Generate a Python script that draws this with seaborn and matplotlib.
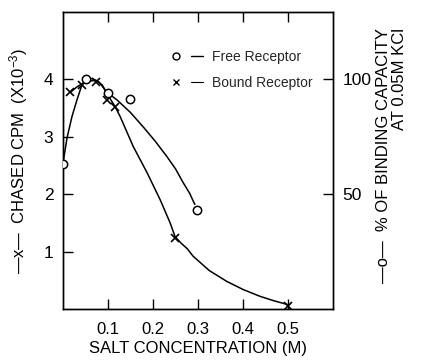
import numpy as np
import pandas as pd
import matplotlib
matplotlib.use("Agg")
import matplotlib.pyplot as plt
import seaborn as sns
from matplotlib.lines import Line2D
from matplotlib.legend_handler import HandlerTuple

# ---- data ----
# Free receptor (% of binding capacity at 0.05M KCl, right axis)
free_salt = [0.0, 0.051, 0.100, 0.149, 0.298]
free_pct = [63.0, 100.0, 94.0, 91.5, 43.0]
# Free receptor hand-drawn curve
free_curve_salt = [0.0, 0.002, 0.009, 0.020, 0.031, 0.042, 0.051, 0.065, 0.080, 0.098, 0.120,
                   0.150, 0.178, 0.205, 0.231, 0.250, 0.267, 0.281, 0.293]
free_curve_pct = [63.0, 66.0, 74.5, 83.8, 91.0, 97.5, 100.0, 100.3, 98.8, 94.2, 91.0,
                  85.5, 79.3, 73.0, 66.3, 61.0, 55.0, 50.5, 45.5]

# Bound receptor (chased CPM x10^-3, left axis)
bound_salt = [0.015, 0.042, 0.073, 0.098, 0.116, 0.249, 0.500]
bound_cpm = [3.77, 3.90, 3.96, 3.64, 3.52, 1.24, 0.06]
# Bound receptor hand-drawn curve
bound_curve_salt = [0.016, 0.030, 0.042, 0.060, 0.073, 0.087, 0.100, 0.116, 0.127, 0.156, 0.187,
                    0.216, 0.238, 0.249, 0.262, 0.276, 0.289, 0.325, 0.364, 0.400, 0.438, 0.470, 0.498]
bound_curve_cpm = [3.77, 3.86, 3.92, 3.97, 3.98, 3.90, 3.72, 3.52, 3.35, 2.83, 2.37,
                   1.90, 1.50, 1.26, 1.15, 1.05, 0.92, 0.67, 0.48, 0.34, 0.22, 0.14, 0.08]

x_ticks = [0.1, 0.2, 0.3, 0.4, 0.5]
x_ticklabels = ["0.1", "0.2", "0.3", "0.4", "0.5"]
left_ticks = [1, 2, 3, 4]
right_ticks = [50, 100]

sns.set_theme(style="ticks")
plt.rcParams["font.family"] = ["Liberation Sans", "DejaVu Sans"]
plt.rcParams["mathtext.fontset"] = "custom"
plt.rcParams["mathtext.rm"] = "Liberation Sans"
plt.rcParams["mathtext.it"] = "Liberation Sans"

fig = plt.figure(figsize=(4.26, 3.61), dpi=100)
ax = fig.add_axes([63 / 426, 1 - 309 / 361, 270 / 426, 297 / 361])
ax2 = ax.twinx()

ylim_left = (0, 5.17)
ax.set_xlim(0, 0.6)
ax.set_ylim(*ylim_left)
ax2.set_ylim(ylim_left[0] * 25, ylim_left[1] * 25)

bound_curve = pd.DataFrame({"salt": bound_curve_salt, "cpm": bound_curve_cpm})
bound_pts = pd.DataFrame({"salt": bound_salt, "cpm": bound_cpm})
free_curve = pd.DataFrame({"salt": free_curve_salt, "pct": free_curve_pct})
free_pts = pd.DataFrame({"salt": free_salt, "pct": free_pct})

sns.lineplot(data=bound_curve, x="salt", y="cpm", ax=ax, color="black", lw=1.1,
             estimator=None, sort=False, legend=False)
ax.plot(bound_pts["salt"], bound_pts["cpm"], ls="none", marker="x", ms=5.5,
        mec="black", mew=1.2, zorder=5)

sns.lineplot(data=free_curve, x="salt", y="pct", ax=ax2, color="black", lw=1.1,
             estimator=None, sort=False, legend=False)
ax2.plot(free_pts["salt"], free_pts["pct"], ls="none", marker="o", ms=6,
         mfc="white", mec="black", mew=1.1, zorder=5)

# ticks
ax.set_xticks(x_ticks)
ax.set_xticklabels(x_ticklabels)
ax.set_yticks(left_ticks)
ax.set_yticklabels([str(t) for t in left_ticks])
ax2.set_yticks(right_ticks)
ax2.set_yticklabels([str(t) for t in right_ticks])

ax.tick_params(axis="x", direction="in", length=7, width=1, top=True, labeltop=False,
               pad=9, labelsize=12, colors="black")
ax.tick_params(axis="y", direction="in", length=7, width=1, pad=7, labelsize=12.5, colors="black")
ax2.tick_params(axis="y", direction="in", length=7, width=1, pad=7, labelsize=12.5, colors="black")

for a in (ax, ax2):
    for s in a.spines.values():
        s.set_visible(True)
        s.set_linewidth(1.0)
        s.set_color("black")

ax.set_xlabel("SALT CONCENTRATION (M)", fontsize=12, labelpad=3, color="black")
ax.set_ylabel("—x—  CHASED CPM  (X10$^{-3}$)", fontsize=12, labelpad=10, color="black")
ax2.set_ylabel("")

fig.text(384 / 426, 1 - 28 / 361, "—o—  % OF BINDING CAPACITY", rotation=90,
         ha="center", va="top", fontsize=12, color="black")
fig.text(400 / 426, 1 - 28 / 361, "AT 0.05M KCl", rotation=90,
         ha="center", va="top", fontsize=12, color="black")

# legend
h_free = (Line2D([], [], ls="none", marker="o", ms=5, mfc="white", mec="black", mew=1),
          Line2D([], [], color="black", lw=1))
h_bound = (Line2D([], [], ls="none", marker="x", ms=5, mec="black", mew=1),
           Line2D([], [], color="black", lw=0.8))
ax2.legend([h_free, h_bound], ["Free Receptor", "Bound Receptor"],
           handler_map={tuple: HandlerTuple(ndivide=None, pad=0.6)},
           loc="upper left", bbox_to_anchor=(0.35, 0.915), frameon=False,
           fontsize=10, handlelength=2.4, handletextpad=0.6, labelspacing=0.85)

fig.savefig("out.png", dpi=100, facecolor="white")
